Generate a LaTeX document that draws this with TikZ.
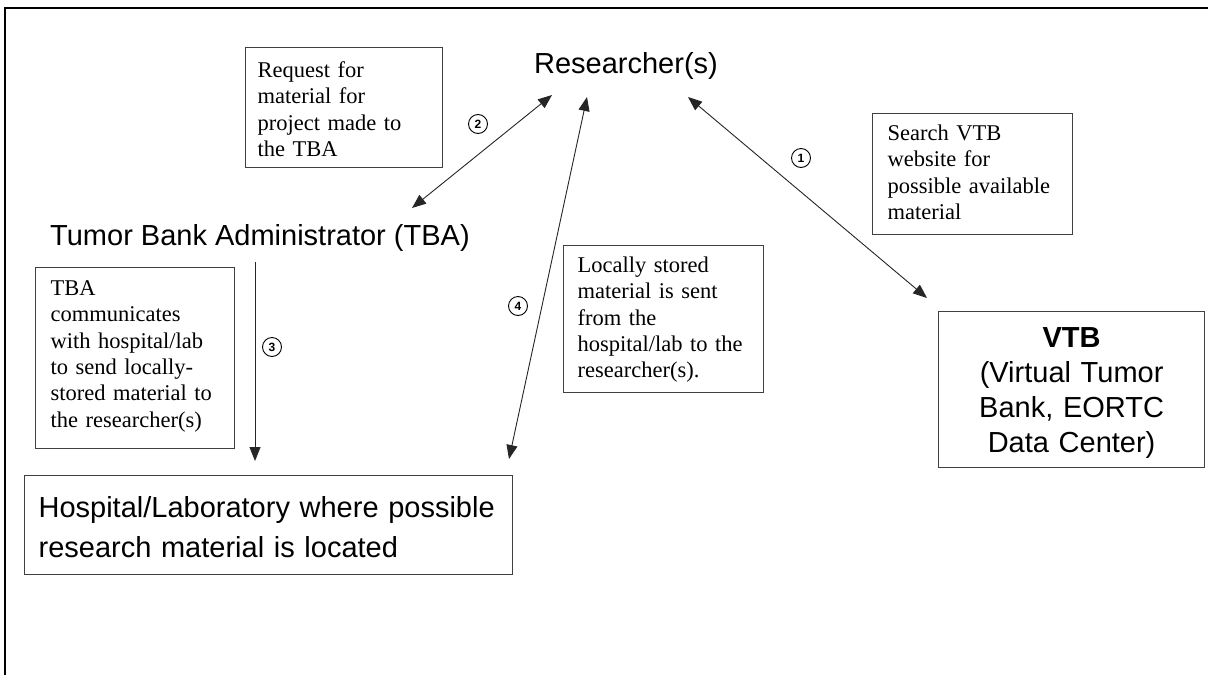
\documentclass[tikz,border=0pt]{standalone}
\usepackage{fontspec}
\setmainfont{Liberation Serif}
\setsansfont{Liberation Sans}
\usetikzlibrary{arrows.meta}
\begin{document}
\begin{tikzpicture}[x=1pt,y=-1pt,
  box/.style={draw=black!75, line width=1.2pt, anchor=north west, inner ysep=0pt, align=left},
  note/.style={box, font=\fontsize{22.5}{26.3}\selectfont},
  bigfont/.style={font=\sffamily\fontsize{29}{35}\selectfont},
  big/.style={bigfont, inner sep=0pt},
  link/.style={black!85, line width=0.9pt, -{Triangle[length=14pt,width=11pt]}},
  dlink/.style={black!85, line width=0.9pt, {Triangle[length=14pt,width=11pt]}-{Triangle[length=14pt,width=11pt]}},
  num/.style={circle, draw, line width=0.9pt, inner sep=0pt, minimum size=19pt, font=\sffamily\bfseries\fontsize{12}{12}\selectfont}
]
\useasboundingbox[fill=white] (0,0) rectangle (1208,675);
\draw[line width=2pt] (5,675) -- (5,8) -- (1208,8);

% main labels
\node[big, anchor=base] (res) at (626,73) {Researcher(s)};
\node[big, anchor=base west] (tba) at (50,245) {Tumor Bank Administrator (TBA)};

% note boxes
\node[note, inner xsep=12pt, text width=173pt, text height=30pt, text depth=90pt] (req) at (245,47)
  {Request for\\material for\\project made to\\the TBA};
\node[note, inner xsep=15pt, text width=170pt, text height=27pt, text depth=94pt] (search) at (872,113)
  {Search VTB\\website for\\possible available\\material};
\node[note, inner xsep=15pt, text width=169pt, text height=28pt, text depth=153pt] (tbanote) at (35,267)
  {TBA\\communicates\\with hospital/lab\\to send locally-\\stored material to\\the researcher(s)};
\node[note, inner xsep=14pt, text width=172pt, text height=27pt, text depth=120pt] (local) at (563,245)
  {Locally stored\\material is sent\\from the\\hospital/lab to the\\researcher(s).};

% target boxes
\node[box, bigfont, align=center, inner xsep=0pt, text width=266pt, text height=36pt, text depth=120pt] (vtb) at (938,311)
  {\textbf{VTB}\\(Virtual Tumor\\Bank, EORTC\\Data Center)};
\node[box, font=\sffamily\fontsize{29}{40}\selectfont, inner xsep=14pt, text width=460pt, text height=42pt, text depth=57pt] (hosp) at (24,475)
  {Hospital/Laboratory where possible\\research material is located};

% connector end points
\coordinate (r2) at (552,95);
\coordinate (t2) at (412,208);
\coordinate (r4) at (587,97);
\coordinate (h4) at (509,459);
\coordinate (r1) at (688,97);
\coordinate (v1) at (927,298);
\coordinate (t3) at (255,262);
\coordinate (h3) at (255,461);

\draw[dlink] (r2) -- (t2);
\draw[dlink] (r4) -- (h4);
\draw[dlink] (r1) -- (v1);
\draw[link] (t3) -- (h3);

% step numbers
\node[num] (n1) at (801,158) {1};
\node[num] (n2) at (478,124) {2};
\node[num] (n3) at (272,347) {3};
\node[num] (n4) at (518,306) {4};
\end{tikzpicture}
\end{document}
